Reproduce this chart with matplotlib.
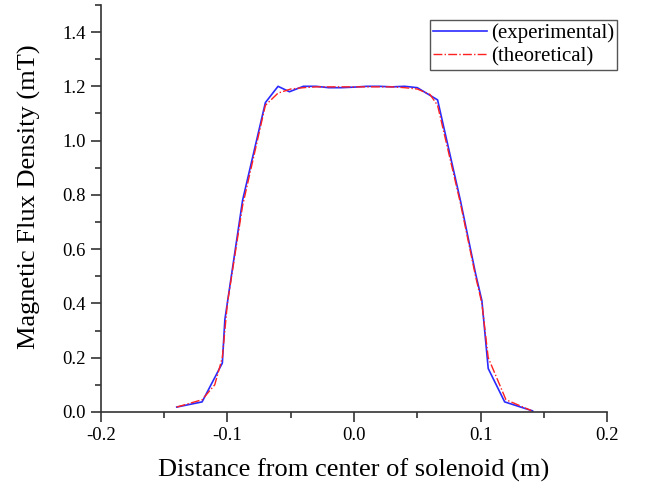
import matplotlib
matplotlib.use('Agg')
import matplotlib.pyplot as plt
from matplotlib.ticker import MultipleLocator

plt.rcParams['font.family'] = ['Liberation Serif', 'DejaVu Serif']
plt.rcParams['axes.unicode_minus'] = False

# Valores
x_exp = [-0.14, -0.12, -0.104, -0.102, -0.088, -0.07, -0.06, -0.051, -0.04, -0.03, -0.02,
         -0.01, 0.0, 0.01, 0.02, 0.03, 0.04, 0.05, 0.066, 0.084, 0.096, 0.101, 0.106, 0.119, 0.141]
y_exp = [0.018, 0.037, 0.18, 0.34, 0.78, 1.14, 1.2, 1.18, 1.2, 1.2, 1.195,
         1.195, 1.197, 1.2, 1.2, 1.198, 1.2, 1.195, 1.15, 0.78, 0.51, 0.41, 0.16, 0.037, 0.004]

x_theo = [-0.14, -0.12, -0.11, -0.104, -0.1, -0.088, -0.07, -0.06, -0.05, -0.04, -0.03, -0.02,
          -0.01, 0.0, 0.01, 0.02, 0.03, 0.04, 0.05, 0.06, 0.066, 0.084, 0.096, 0.101, 0.106, 0.12, 0.14]
y_theo = [0.018, 0.045, 0.1, 0.2, 0.4, 0.76, 1.13, 1.175, 1.19, 1.195, 1.198, 1.198,
          1.198, 1.198, 1.198, 1.198, 1.198, 1.195, 1.19, 1.17, 1.13, 0.77, 0.5, 0.4, 0.2, 0.045, 0.005]

fig = plt.figure(figsize=(6.46, 4.91), dpi=100)
ax = fig.add_axes([0.156, 0.161, 0.784, 0.829])

ax.plot(x_exp, y_exp, color='#2a2aff', lw=1.2, label='(experimental)')
ax.plot(x_theo, y_theo, color='#ff2020', lw=1.0, ls='-.', label='(theoretical)')

ax.set_xlim(-0.2, 0.2)
ax.set_ylim(0, 1.5)
ax.set_xticks([-0.2, -0.1, 0.0, 0.1, 0.2])
ax.set_yticks([0.0, 0.2, 0.4, 0.6, 0.8, 1.0, 1.2, 1.4])
ax.xaxis.set_minor_locator(MultipleLocator(0.05))
ax.yaxis.set_minor_locator(MultipleLocator(0.1))
ax.set_xticklabels(['-0.2', '-0.1', '0.0', '0.1', '0.2'])
ax.set_yticklabels(['0.0', '0.2', '0.4', '0.6', '0.8', '1.0', '1.2', '1.4'])

for s in ['top', 'right']:
    ax.spines[s].set_visible(False)
for s in ['left', 'bottom']:
    ax.spines[s].set_linewidth(1.2)
    ax.spines[s].set_color('#333333')

ax.tick_params(which='major', direction='out', length=7, width=1.2, labelsize=13.5,
               colors='#333333', labelcolor='black', pad=4)
ax.tick_params(which='minor', direction='out', length=4, width=1.2, colors='#333333')

ax.set_xlabel('Distance from center of solenoid (m)', fontsize=19, labelpad=10)
ax.set_ylabel('Magnetic Flux Density (mT)', fontsize=19)
ax.yaxis.set_label_coords(-0.118, 0.528)

leg = ax.legend(loc='upper right', bbox_to_anchor=(1.02, 0.963), fontsize=15, fancybox=False,
                edgecolor='#555555', framealpha=1, handlelength=2.6, borderpad=0.15,
                labelspacing=0.2, handletextpad=0.2, borderaxespad=0)
leg.get_frame().set_linewidth(1.0)

fig.savefig('out.png', dpi=100)
plt.close()
